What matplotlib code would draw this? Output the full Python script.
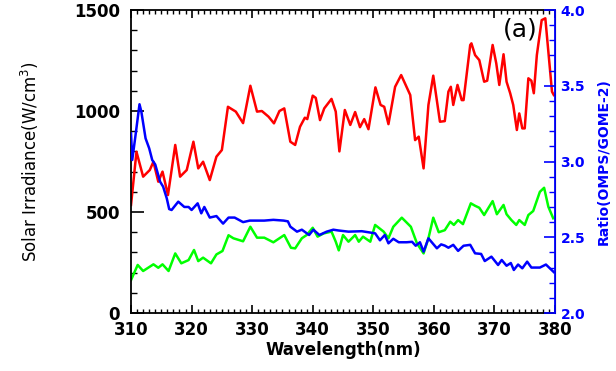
import matplotlib
matplotlib.use("Agg")
import matplotlib.pyplot as plt
from matplotlib.ticker import MultipleLocator

# solar irradiance (red), left axis
wl_red = [310.0, 310.9, 312.0, 313.1, 313.7, 314.5, 315.2, 316.1, 317.3, 318.1,
          319.2, 320.3, 321.1, 321.9, 323.0, 324.1, 325.0, 326.0, 327.3, 328.5,
          329.7, 330.8, 331.6, 332.7, 333.6, 334.5, 335.3, 336.3, 337.1, 337.9,
          338.7, 339.1, 340.0, 340.5, 341.2, 341.9, 343.1, 343.8, 344.4, 345.3,
          346.2, 347.0, 347.8, 348.5, 349.2, 350.35, 351.2, 351.8, 352.5, 353.6,
          354.6, 356.1, 356.9, 357.5, 358.3, 359.1, 359.9, 361.0, 361.8, 362.4,
          362.8, 363.2, 363.9, 364.6, 364.9, 366.0, 366.2, 366.8, 367.5, 368.3,
          368.8, 369.7, 370.3, 370.8, 371.5, 372.0, 372.6, 373.1, 373.7, 374.1,
          374.6, 375.0, 375.6, 376.1, 376.5, 377.0, 377.8, 378.4, 378.9, 379.5,
          379.8]
irradiance = [535, 798, 675, 708, 749, 650, 700, 584, 832, 675,
              708, 848, 716, 749, 658, 774, 807, 1021, 997, 940,
              1125, 997, 1000, 972, 939, 1000, 1013, 848, 832, 922,
              967, 960, 1076, 1065, 955, 1013, 1060, 997, 800, 1005,
              931, 995, 920, 960, 910, 1117, 1030, 1021, 935, 1120,
              1178, 1079, 856, 873, 716, 1030, 1175, 947, 950, 1096,
              1120, 1030, 1129, 1054, 1054, 1327, 1335, 1277, 1252, 1145,
              1150, 1327, 1236, 1129, 1281, 1145, 1088, 1030, 906, 988,
              914, 914, 1162, 1150, 1088, 1277, 1450, 1459, 1294, 1096,
              1079]

# second spectrum (green), left axis
wl_green = [310.0, 311.1, 312.0, 313.7, 314.5, 315.2, 316.2, 317.3, 318.3, 319.5,
            320.4, 321.1, 321.9, 323.2, 324.1, 325.1, 326.1, 326.9, 328.5, 329.7,
            330.8, 332.0, 333.5, 334.5, 335.3, 336.4, 337.1, 338.2, 339.0, 340.0,
            340.8, 341.8, 343.1, 343.8, 344.3, 345.0, 345.9, 347.0, 347.6, 348.3,
            349.5, 350.3, 351.7, 352.5, 353.3, 354.7, 356.2, 357.2, 358.3, 359.1,
            359.9, 360.8, 361.8, 362.7, 363.3, 364.0, 364.8, 366.1, 366.8, 367.5,
            368.3, 368.8, 369.7, 370.4, 370.9, 371.5, 372.0, 372.8, 373.6, 374.1,
            375.0, 375.6, 376.4, 377.5, 378.2, 378.9, 379.7]
green = [163, 238, 208, 241, 224, 241, 208, 295, 246, 262,
         312, 257, 274, 246, 290, 307, 385, 370, 355, 427,
         373, 373, 350, 370, 386, 323, 320, 370, 386, 422,
         378, 394, 403, 353, 310, 386, 353, 386, 353, 378,
         353, 436, 403, 370, 427, 472, 427, 345, 295, 370,
         472, 400, 410, 452, 436, 460, 440, 543, 531, 521,
         485, 510, 554, 489, 510, 535, 489, 460, 436, 460,
         436, 485, 505, 600, 620, 526, 469]

# ratio OMPS/GOME-2 (blue), right axis
wl_ratio = [310.0, 310.2, 310.7, 311.4, 311.7, 312.4, 313.0, 313.5, 314.0, 314.8,
            315.3, 315.9, 316.3, 316.7, 317.8, 318.8, 319.5, 320.0, 321.0, 321.6,
            322.1, 323.0, 324.1, 325.2, 326.1, 327.1, 328.5, 329.6, 332.0, 333.5,
            335.2, 335.9, 336.3, 337.4, 338.2, 339.4, 340.1, 341.1, 342.3, 343.4,
            344.2, 345.9, 348.1, 350.3, 351.1, 351.9, 352.5, 353.3, 354.2, 355.5,
            356.4, 357.0, 357.7, 358.3, 359.1, 359.8, 360.5, 361.2, 361.8, 362.4,
            363.2, 364.0, 364.9, 366.0, 366.8, 367.8, 368.4, 369.5, 370.6, 371.2,
            372.0, 372.7, 373.2, 373.9, 374.6, 375.4, 376.1, 377.5, 378.5, 379.8]
ratio = [3.186, 3.01, 3.16, 3.378, 3.33, 3.153, 3.087, 3.01, 2.98, 2.867,
         2.834, 2.757, 2.686, 2.68, 2.735, 2.70, 2.70, 2.68, 2.724, 2.658,
         2.70, 2.63, 2.64, 2.59, 2.63, 2.63, 2.60, 2.61, 2.61, 2.615,
         2.61, 2.605, 2.57, 2.537, 2.55, 2.515, 2.55, 2.515, 2.537, 2.55,
         2.545, 2.537, 2.54, 2.526, 2.48, 2.515, 2.46, 2.49, 2.467, 2.467,
         2.47, 2.444, 2.467, 2.405, 2.493, 2.46, 2.427, 2.453, 2.445, 2.431,
         2.45, 2.41, 2.444, 2.45, 2.394, 2.39, 2.343, 2.372, 2.317, 2.35,
         2.312, 2.33, 2.284, 2.32, 2.295, 2.339, 2.30, 2.30, 2.32, 2.27]

plt.rcParams['font.family'] = 'DejaVu Sans'

fig = plt.figure(figsize=(6.16, 3.71), dpi=100)
ax = fig.add_axes([0.2127, 0.1563, 0.6883, 0.8167])
ax2 = ax.twinx()

ax.plot(wl_red, irradiance, color='#ff0000', lw=1.8)
ax.plot(wl_green, green, color='#00ff00', lw=1.8)
ax2.plot(wl_ratio, ratio, color='#0000ff', lw=1.8)

ax.set_xlim(310, 380)
ax.set_ylim(0, 1500)
ax2.set_ylim(2.0, 4.0)

ax.xaxis.set_major_locator(MultipleLocator(10))
ax.xaxis.set_minor_locator(MultipleLocator(1))
ax.yaxis.set_major_locator(MultipleLocator(500))
ax.yaxis.set_minor_locator(MultipleLocator(100))
ax2.yaxis.set_major_locator(MultipleLocator(0.5))
ax2.yaxis.set_minor_locator(MultipleLocator(0.1))

ax.tick_params(axis='x', which='both', direction='in', top=True, labelsize=12, pad=6)
ax.tick_params(axis='x', which='major', length=6, width=1.2)
ax.tick_params(axis='x', which='minor', length=3, width=1)
ax.tick_params(axis='y', which='major', direction='in', length=9, width=1.2, labelsize=12, pad=8)
ax.tick_params(axis='y', which='minor', direction='in', length=4, width=1)
ax2.tick_params(axis='y', which='both', direction='in', colors='#0000ff', labelsize=10, pad=4)
ax2.tick_params(axis='y', which='major', length=8, width=1.2)
ax2.tick_params(axis='y', which='minor', length=4, width=1)
ax2.set_yticklabels(['%.1f' % v for v in ax2.get_yticks()], fontweight='bold')

for lab in ax.get_xticklabels() + ax.get_yticklabels():
    lab.set_fontweight('bold')

for s in ['left', 'top', 'bottom']:
    ax.spines[s].set_linewidth(1.3)
ax2.spines['right'].set_color('#0000ff')
ax2.spines['right'].set_linewidth(1.3)
ax2.spines['left'].set_visible(False)
ax2.spines['top'].set_visible(False)
ax2.spines['bottom'].set_visible(False)

ax.set_xlabel('Wavelength(nm)', fontsize=12, fontweight='bold', labelpad=1)
ax.set_ylabel('Solar Irradiance(W/cm$^3$)', fontsize=12, labelpad=24)
ax2.set_ylabel('Ratio(OMPS/GOME-2)', fontsize=10, fontweight='bold', color='#0000ff', labelpad=8)

ax.text(0.96, 0.935, '(a)', transform=ax.transAxes, fontsize=18,
        ha='right', va='center')

fig.savefig('out.png', dpi=100)
